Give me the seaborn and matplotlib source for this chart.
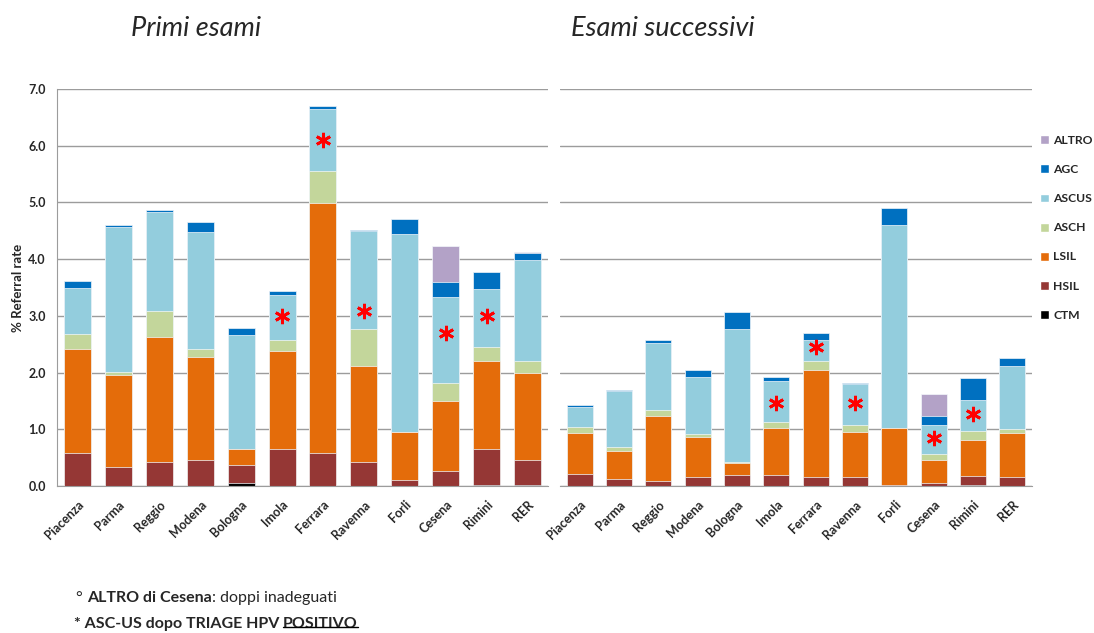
import numpy as np
import pandas as pd
import seaborn as sns
import matplotlib.pyplot as plt
from matplotlib.patches import Patch
from matplotlib.lines import Line2D

sns.set_style('white')
plt.rcParams['font.family'] = ['Lato', 'DejaVu Sans']

REGIONS = ['Piacenza', 'Parma', 'Reggio', 'Modena', 'Bologna', 'Imola',
           'Ferrara', 'Ravenna', 'Forli', 'Cesena', 'Rimini', 'RER']

LAYERS = ['CTM', 'HSIL', 'LSIL', 'ASCH', 'ASCUS', 'AGC', 'ALTRO']
PALETTE = {
    'ALTRO': '#B3A2C7',
    'AGC': '#0070C0',
    'ASCUS': '#93CDDD',
    'ASCH': '#C3D69B',
    'LSIL': '#E46C0A',
    'HSIL': '#953735',
    'CTM': '#000000',
}

##### PRIMI ESAMI (segment heights, % referral rate)
primi_ctm   = [0.00, 0.00, 0.00, 0.00, 0.05, 0.00, 0.00, 0.00, 0.00, 0.00, 0.02, 0.02]
primi_hsil  = [0.59, 0.34, 0.43, 0.45, 0.32, 0.65, 0.58, 0.43, 0.10, 0.26, 0.63, 0.43]
primi_lsil  = [1.82, 1.61, 2.19, 1.83, 0.28, 1.73, 4.41, 1.68, 0.86, 1.24, 1.56, 1.54]
primi_asch  = [0.27, 0.06, 0.46, 0.14, 0.01, 0.19, 0.56, 0.65, 0.00, 0.32, 0.24, 0.22]
primi_ascus = [0.82, 2.55, 1.76, 2.05, 2.00, 0.79, 1.09, 1.74, 3.49, 1.51, 1.02, 1.77]
primi_agc   = [0.11, 0.05, 0.03, 0.18, 0.13, 0.08, 0.06, 0.02, 0.26, 0.26, 0.31, 0.13]
primi_altro = [0.00, 0.00, 0.00, 0.00, 0.00, 0.00, 0.00, 0.00, 0.00, 0.64, 0.00, 0.02]

##### ESAMI SUCCESSIVI
succ_ctm   = [0.00, 0.00, 0.00, 0.00, 0.00, 0.00, 0.00, 0.00, 0.00, 0.00, 0.02, 0.00]
succ_hsil  = [0.21, 0.13, 0.09, 0.15, 0.20, 0.20, 0.15, 0.15, 0.02, 0.05, 0.16, 0.15]
succ_lsil  = [0.73, 0.48, 1.14, 0.72, 0.21, 0.82, 1.89, 0.80, 1.00, 0.40, 0.63, 0.78]
succ_asch  = [0.10, 0.07, 0.11, 0.05, 0.01, 0.11, 0.17, 0.13, 0.00, 0.12, 0.16, 0.07]
succ_ascus = [0.36, 0.99, 1.19, 1.01, 2.35, 0.73, 0.37, 0.71, 3.59, 0.51, 0.54, 1.12]
succ_agc   = [0.03, 0.03, 0.04, 0.12, 0.30, 0.06, 0.12, 0.03, 0.30, 0.15, 0.40, 0.13]
succ_altro = [0.00, 0.00, 0.00, 0.00, 0.00, 0.00, 0.00, 0.00, 0.00, 0.39, 0.00, 0.01]

# asterisks: ASC-US after positive HPV triage
STAR_REGIONS = ['Imola', 'Ferrara', 'Ravenna', 'Cesena', 'Rimini']
primi_star_y = [3.00, 6.10, 3.08, 2.70, 3.00]
succ_star_y  = [1.47, 2.45, 1.47, 0.85, 1.27]

primi = pd.DataFrame(dict(zip(LAYERS, [primi_ctm, primi_hsil, primi_lsil, primi_asch,
                                       primi_ascus, primi_agc, primi_altro])), index=REGIONS)
succ = pd.DataFrame(dict(zip(LAYERS, [succ_ctm, succ_hsil, succ_lsil, succ_asch,
                                      succ_ascus, succ_agc, succ_altro])), index=REGIONS)


def draw_panel(ax, df, star_y):
    cum = df[LAYERS].cumsum(axis=1)
    # stacked look: draw cumulative totals from the top layer down
    for layer in reversed(LAYERS):
        sns.barplot(x=REGIONS, y=cum[layer].values, color=PALETTE[layer], saturation=1,
                    width=0.66, edgecolor='#f4f8fb', linewidth=0.5, ax=ax)
    xs = [REGIONS.index(r) for r in STAR_REGIONS]
    ax.plot(xs, star_y, linestyle='none', marker=(6, 2, 0), markersize=11,
            markeredgewidth=2.0, color='#FF0000')
    ax.set_ylim(0, 7)
    ax.set_xlim(-0.5, len(REGIONS) - 0.5)
    ax.set_yticks(np.arange(0, 7.01, 1))
    ax.yaxis.grid(True, color='#9c9c9c', linewidth=1)
    ax.set_axisbelow(True)
    for s in ['top', 'right']:
        ax.spines[s].set_visible(False)
    ax.spines['bottom'].set_color('#9c9c9c')
    ax.spines['left'].set_color('#9c9c9c')
    ax.tick_params(axis='both', length=0)
    ax.tick_params(axis='x', pad=9)
    ax.tick_params(axis='y', pad=8)
    ax.set_xticks(range(len(REGIONS)))
    ax.set_xticklabels(REGIONS, rotation=45, ha='right', rotation_mode='anchor',
                       fontsize=9, fontweight='bold')
    ax.set_xlabel('')


fig = plt.figure(figsize=(10.94, 6.33), dpi=100)
ax1 = fig.add_axes([57 / 1094, 1 - 486 / 633, 491 / 1094, 397 / 633])
ax2 = fig.add_axes([560 / 1094, 1 - 486 / 633, 472 / 1094, 397 / 633])

draw_panel(ax1, primi, primi_star_y)
draw_panel(ax2, succ, succ_star_y)

ax1.set_yticklabels([f'{v:.1f}' for v in np.arange(0, 7.01, 1)], fontsize=9, fontweight='bold')
ax1.set_ylabel('% Referral rate', fontsize=9.5, fontweight='bold', labelpad=3)
ax2.set_yticklabels([])
ax2.spines['left'].set_visible(False)

fig.text(196 / 1094, 1 - 28 / 633, 'Primi esami', style='italic', fontsize=19.5,
         ha='center', va='center')
fig.text(663 / 1094, 1 - 28 / 633, 'Esami successivi', style='italic', fontsize=19.5,
         ha='center', va='center')

handles = [Patch(facecolor=PALETTE[l], label=l) for l in reversed(LAYERS)]
fig.legend(handles=handles, loc='upper left', bbox_to_anchor=(1040 / 1094, 1 - 135 / 633),
           frameon=False, borderpad=0, borderaxespad=0, handlelength=0.75, handleheight=0.75,
           labelspacing=1.5, handletextpad=0.35, prop={'weight': 'bold', 'size': 8.7})

# footnotes
t1 = fig.text(76 / 1094, 1 - 598 / 633, '° ', fontsize=11.5, va='center')
t2 = ax1.annotate('ALTRO di Cesena', xy=(1, 0), xycoords=t1, va='bottom', ha='left',
                  fontsize=11.5, fontweight='bold', annotation_clip=False)
ax1.annotate(': doppi inadeguati', xy=(1, 0), xycoords=t2, va='bottom', ha='left',
             fontsize=11.5, annotation_clip=False)
t3 = fig.text(74 / 1094, 1 - 624 / 633, '* ASC-US dopo TRIAGE HPV ', fontsize=11.5,
              fontweight='bold', va='center')
t4 = ax1.annotate('POSITIVO', xy=(1, 0), xycoords=t3, va='bottom', ha='left',
                  fontsize=11.5, fontweight='bold', annotation_clip=False)

fig.canvas.draw()
bb = t4.get_window_extent()
inv = fig.transFigure.inverted()
(x0, y0), (x1, _) = inv.transform([(bb.x0, bb.y0 + 0.27 * bb.height), (bb.x1, bb.y0)])
fig.add_artist(Line2D([x0, x1], [y0, y0], color='black', linewidth=1, transform=fig.transFigure))

plt.savefig('out.png', dpi=100)
